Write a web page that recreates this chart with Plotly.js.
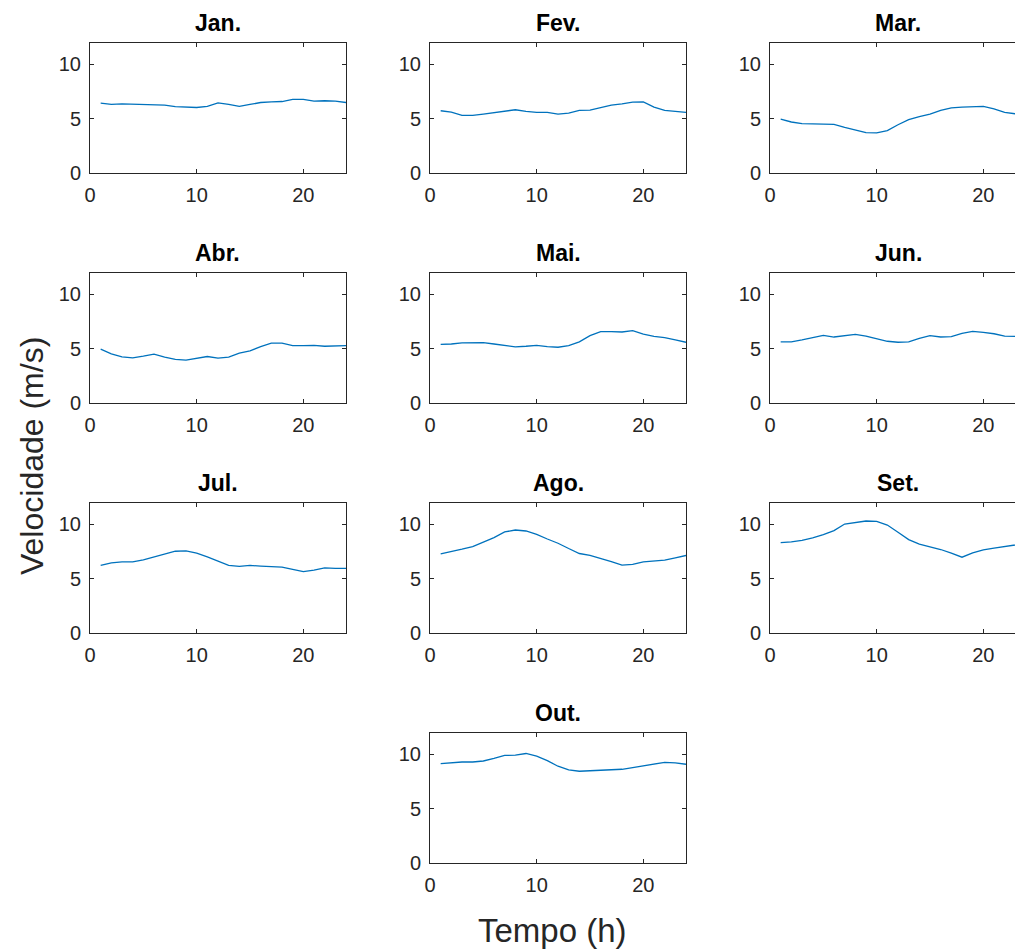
<!DOCTYPE html>
<html>
<head>
<meta charset="utf-8">
<script src="https://cdn.plot.ly/plotly-3.0.1.min.js"></script>
<style>
html, body { margin:0; padding:0; overflow:hidden; background:#fff; }
#chart { width:1040px; height:951px; }
</style>
</head>
<body>
<div id="chart"></div>
<script>
// Hours of the day
const hours = [1,2,3,4,5,6,7,8,9,10,11,12,13,14,15,16,17,18,19,20,21,22,23,24];

// Monthly titles
const months = ["Jan.", "Fev.", "Mar.", "Abr.", "Mai.", "Jun.", "Jul.", "Ago.", "Set.", "Out."];

// Mean wind speed (m/s) per hour for each month
const jan = [6.42,6.30,6.36,6.33,6.30,6.27,6.24,6.09,6.06,6.02,6.12,6.45,6.30,6.12,6.30,6.48,6.54,6.57,6.76,6.76,6.60,6.64,6.60,6.48];
const fev = [5.72,5.60,5.29,5.29,5.41,5.54,5.63,5.81,5.66,5.57,5.57,5.41,5.50,5.75,5.78,6.02,6.24,6.36,6.51,6.54,6.06,5.75,5.63,5.57];
const mar = [4.95,4.68,4.53,4.50,4.46,4.46,4.19,3.91,3.70,3.67,3.88,4.43,4.89,5.17,5.41,5.75,5.99,6.06,6.12,6.12,5.90,5.57,5.44,5.35];
const abr = [4.97,4.55,4.27,4.18,4.33,4.52,4.24,4.03,3.97,4.12,4.30,4.15,4.24,4.61,4.82,5.21,5.52,5.52,5.30,5.30,5.33,5.24,5.24,5.30];
const mai = [5.42,5.45,5.55,5.58,5.58,5.45,5.30,5.18,5.24,5.33,5.21,5.15,5.30,5.64,6.21,6.58,6.58,6.55,6.67,6.36,6.15,6.03,5.82,5.61];
const jun = [5.64,5.64,5.82,6.06,6.24,6.09,6.24,6.33,6.18,5.91,5.70,5.61,5.64,5.97,6.21,6.09,6.12,6.42,6.61,6.52,6.39,6.18,6.15,6.10];
const jul = [6.21,6.45,6.54,6.54,6.73,7.00,7.28,7.52,7.55,7.34,7.00,6.61,6.21,6.12,6.21,6.15,6.09,6.06,5.84,5.63,5.78,5.99,5.93,5.93];
const ago = [7.28,7.46,7.71,7.95,8.35,8.78,9.30,9.48,9.39,9.08,8.65,8.26,7.77,7.31,7.13,6.88,6.57,6.24,6.30,6.54,6.61,6.70,6.91,7.13];
const set = [8.32,8.38,8.53,8.75,9.05,9.42,10.03,10.18,10.31,10.28,9.94,9.27,8.59,8.17,7.95,7.68,7.34,6.97,7.37,7.65,7.80,7.95,8.10,8.25];
const out = [9.16,9.25,9.31,9.31,9.40,9.64,9.91,9.94,10.09,9.85,9.43,8.92,8.58,8.46,8.49,8.55,8.55,8.64,8.80,8.98,9.16,9.28,9.22,9.10];

const series = [jan, fev, mar, abr, mai, jun, jul, ago, set, out];

const xTicks = [0, 10, 20];
const yTicks = [0, 5, 10];

// Layout geometry (pixels)
const W = 1040, H = 951;
const colX = [[90, 346], [430, 686], [770, 1026]];
const rowY = [[42.7, 172.7], [272.7, 403.3], [502.7, 632.7], [732.7, 863.3]];
const cells = [[0,0],[0,1],[0,2],[1,0],[1,1],[1,2],[2,0],[2,1],[2,2],[3,1]];

const axisColor = "#262626";
const fontFam = "Liberation Sans, Arial, Helvetica, sans-serif";

const traces = [];
const layout = {
  width: W, height: H,
  margin: {l:0, r:0, t:0, b:0},
  paper_bgcolor: "#ffffff",
  plot_bgcolor: "#ffffff",
  showlegend: false,
  font: {family: fontFam, color: axisColor, size: 20},
  annotations: []
};

series.forEach((vals, i) => {
  const [r, c] = cells[i];
  const n = i + 1;
  const xa = n === 1 ? "x" : "x" + n;
  const ya = n === 1 ? "y" : "y" + n;
  traces.push({
    x: hours, y: vals, xaxis: xa, yaxis: ya,
    type: "scatter", mode: "lines",
    line: {color: "#0072BD", width: 1.3},
    hoverinfo: "skip"
  });
  const xd = [colX[c][0] / W, colX[c][1] / W];
  const yd = [1 - rowY[r][1] / H, 1 - rowY[r][0] / H];
  const common = {
    showline: true, mirror: "ticks", linecolor: axisColor, linewidth: 1,
    ticks: "inside", ticklen: 4, tickwidth: 1, tickcolor: axisColor,
    showgrid: false, zeroline: false, fixedrange: true,
    tickfont: {family: fontFam, size: 20, color: axisColor}
  };
  layout["xaxis" + (n === 1 ? "" : n)] = Object.assign({}, common, {
    domain: xd, range: [0, 24], tickmode: "array", tickvals: xTicks,
    ticktext: xTicks.map(String), anchor: ya, ticklabelstandoff: 4
  });
  layout["yaxis" + (n === 1 ? "" : n)] = Object.assign({}, common, {
    domain: yd, range: [0, 12], tickmode: "array", tickvals: yTicks,
    ticktext: yTicks.map(String), anchor: xa, ticklabelstandoff: 4
  });
  layout.annotations.push({
    text: "<b>" + months[i] + "</b>",
    xref: "paper", yref: "paper",
    x: (xd[0] + xd[1]) / 2, y: 1 - (rowY[r][0] - 20) / H,
    xanchor: "center", yanchor: "middle", showarrow: false,
    font: {family: fontFam, size: 23, color: "#000000"}
  });
});

layout.annotations.push({
  text: "Velocidade (m/s)", xref: "paper", yref: "paper",
  x: 32 / W, y: 1 - 456 / H, xanchor: "center", yanchor: "middle",
  textangle: -90, showarrow: false,
  font: {family: fontFam, size: 32, color: axisColor}
});
layout.annotations.push({
  text: "Tempo (h)", xref: "paper", yref: "paper",
  x: 552 / W, y: 1 - 930 / H, xanchor: "center", yanchor: "middle",
  showarrow: false,
  font: {family: fontFam, size: 33, color: axisColor}
});

Plotly.newPlot("chart", traces, layout, {staticPlot: true, displayModeBar: false});
</script>
</body>
</html>
